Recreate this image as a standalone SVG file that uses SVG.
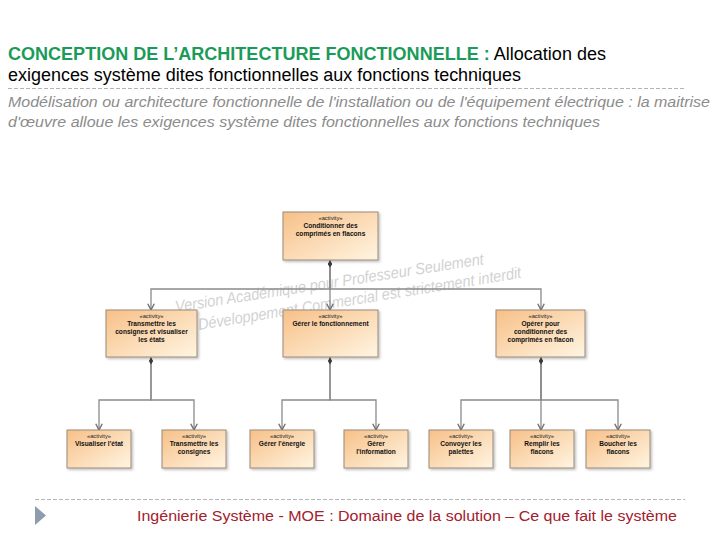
<svg xmlns="http://www.w3.org/2000/svg" width="720" height="540" viewBox="0 0 720 540">
<defs>
<linearGradient id="g" x1="0" y1="0" x2="1" y2="1">
<stop offset="0" stop-color="#f7c088"/>
<stop offset="1" stop-color="#fff5e2"/>
</linearGradient>
<marker id="arr" markerUnits="userSpaceOnUse" markerWidth="10" markerHeight="10" viewBox="-6 -4 7 8" refX="0" refY="0" orient="auto">
<path d="M-5,-2.6 L0,0 L-5,2.6" fill="none" stroke="#6f6f6f" stroke-width="1.1"/>
</marker>
<marker id="dia" markerUnits="userSpaceOnUse" markerWidth="10" markerHeight="10" viewBox="-1 -3 10 6" refX="0" refY="0" orient="auto">
<path d="M0,0 L3.5,-1.9 L7,0 L3.5,1.9 Z" fill="#3a3a3a"/>
</marker>
<filter id="sh" x="-10%" y="-10%" width="130%" height="130%">
<feDropShadow dx="1.5" dy="1.5" stdDeviation="0.8" flood-color="#000" flood-opacity="0.25"/>
</filter>
</defs>
<style>
.box{fill:url(#g);stroke:#9a8a78;stroke-width:1;filter:url(#sh)}
.st{font-family:"Liberation Sans",Arial,sans-serif;font-size:5.8px;fill:#222;text-anchor:middle}
.lb{font-family:"Liberation Sans",Arial,sans-serif;font-size:6.6px;font-weight:bold;fill:#111;text-anchor:middle}
.con{fill:none;stroke:#8a8a8a;stroke-width:1.3;marker-start:url(#dia);marker-end:url(#arr)}
.wm{font-family:"Liberation Sans",Arial,sans-serif;font-style:italic;font-size:16px;fill:#d2d2d2}
</style>
<rect width="720" height="540" fill="#fff"/>

<g id="header">
<text x="8" y="60" font-family="Liberation Sans,Arial,sans-serif" font-size="17.5" textLength="598" lengthAdjust="spacingAndGlyphs"><tspan font-weight="bold" fill="#1b9b59">CONCEPTION DE L’ARCHITECTURE FONCTIONNELLE :</tspan><tspan fill="#000"> Allocation des</tspan></text>
<text x="8" y="81" font-family="Liberation Sans,Arial,sans-serif" font-size="17.5" fill="#000" textLength="513" lengthAdjust="spacingAndGlyphs">exigences système dites fonctionnelles aux fonctions techniques</text>
<line x1="8" y1="88.5" x2="685" y2="88.5" stroke="#b4b4b4" stroke-width="1" stroke-dasharray="4,2"/>
<text x="8" y="107" font-family="Liberation Sans,Arial,sans-serif" font-style="italic" font-size="15.5" fill="#8c8c8c" textLength="702" lengthAdjust="spacingAndGlyphs">Modélisation ou architecture fonctionnelle de l'installation ou de l'équipement électrique : la maitrise</text>
<text x="8" y="127" font-family="Liberation Sans,Arial,sans-serif" font-style="italic" font-size="15.5" fill="#8c8c8c" textLength="592" lengthAdjust="spacingAndGlyphs">d'œuvre alloue les exigences système dites fonctionnelles aux fonctions techniques</text>
</g>

<g id="watermark">
<text class="wm" x="176" y="312" transform="rotate(-8.8 176 312)" textLength="312" lengthAdjust="spacingAndGlyphs">Version Académique pour Professeur Seulement</text>
<text class="wm" x="199" y="330" transform="rotate(-9.2 199 330)" textLength="327" lengthAdjust="spacingAndGlyphs">Développement Commercial est strictement interdit</text>
</g>

<g id="connectors">
<polyline class="con" points="330,260.5 330,289 151,289 151,310"/>
<polyline class="con" points="330,260.5 330,310"/>
<polyline class="con" points="330,260.5 330,289 541,289 541,310"/>
<polyline class="con" points="151,357.5 151,400 99,400 99,430"/>
<polyline class="con" points="151,357.5 151,400 194,400 194,430"/>
<polyline class="con" points="330,357.5 330,400 282,400 282,430"/>
<polyline class="con" points="330,357.5 330,400 376,400 376,430"/>
<polyline class="con" points="541,357.5 541,400 461,400 461,430"/>
<polyline class="con" points="541,357.5 541,430"/>
<polyline class="con" points="541,357.5 541,400 618,400 618,430"/>
</g>

<g id="n-top">
<rect class="box" x="283" y="212" width="95" height="48"/>
<text class="st" x="330.5" y="219.5">«activity»</text>
<text class="lb" x="330.5" y="228">Conditionner des</text>
<text class="lb" x="330.5" y="236">comprimés en flacons</text>
</g>

<g id="n-m1">
<rect class="box" x="106" y="310" width="91" height="47"/>
<text class="st" x="151.5" y="317.5">«activity»</text>
<text class="lb" x="151.5" y="326">Transmettre les</text>
<text class="lb" x="151.5" y="334">consignes et visualiser</text>
<text class="lb" x="151.5" y="342">les états</text>
</g>

<g id="n-m2">
<rect class="box" x="283" y="310" width="95" height="47"/>
<text class="st" x="330.5" y="317.5">«activity»</text>
<text class="lb" x="330.5" y="326">Gérer le fonctionnement</text>
</g>

<g id="n-m3">
<rect class="box" x="496" y="310" width="89" height="47"/>
<text class="st" x="540.5" y="317.5">«activity»</text>
<text class="lb" x="540.5" y="326">Opérer pour</text>
<text class="lb" x="540.5" y="334">conditionner des</text>
<text class="lb" x="540.5" y="342">comprimés en flacon</text>
</g>

<g id="n-b1">
<rect class="box" x="67" y="430" width="64" height="38"/>
<text class="st" x="99" y="437.5">«activity»</text>
<text class="lb" x="99" y="446">Visualiser l'état</text>
</g>

<g id="n-b2">
<rect class="box" x="162" y="430" width="64" height="38"/>
<text class="st" x="194" y="437.5">«activity»</text>
<text class="lb" x="194" y="446">Transmettre les</text>
<text class="lb" x="194" y="454">consignes</text>
</g>

<g id="n-b3">
<rect class="box" x="250" y="430" width="64" height="38"/>
<text class="st" x="282" y="437.5">«activity»</text>
<text class="lb" x="282" y="446">Gérer l'énergie</text>
</g>

<g id="n-b4">
<rect class="box" x="344" y="430" width="64" height="38"/>
<text class="st" x="376" y="437.5">«activity»</text>
<text class="lb" x="376" y="446">Gérer</text>
<text class="lb" x="376" y="454">l'information</text>
</g>

<g id="n-b5">
<rect class="box" x="429" y="430" width="64" height="38"/>
<text class="st" x="461" y="437.5">«activity»</text>
<text class="lb" x="461" y="446">Convoyer les</text>
<text class="lb" x="461" y="454">palettes</text>
</g>

<g id="n-b6">
<rect class="box" x="510" y="430" width="64" height="38"/>
<text class="st" x="542" y="437.5">«activity»</text>
<text class="lb" x="542" y="446">Remplir les</text>
<text class="lb" x="542" y="454">flacons</text>
</g>

<g id="n-b7">
<rect class="box" x="586" y="430" width="64" height="38"/>
<text class="st" x="618" y="437.5">«activity»</text>
<text class="lb" x="618" y="446">Boucher les</text>
<text class="lb" x="618" y="454">flacons</text>
</g>

<g id="footer">
<line x1="35" y1="499.5" x2="685" y2="499.5" stroke="#b4b4b4" stroke-width="1" stroke-dasharray="4,2"/>
<polygon points="35,506 46,515.5 35,525" fill="#8e9cb0"/>
<text x="137" y="521" font-family="Liberation Sans,Arial,sans-serif" font-size="15.5" fill="#a3202c" textLength="540" lengthAdjust="spacingAndGlyphs">Ingénierie Système - MOE : Domaine de la solution – Ce que fait le système</text>
</g>
</svg>
